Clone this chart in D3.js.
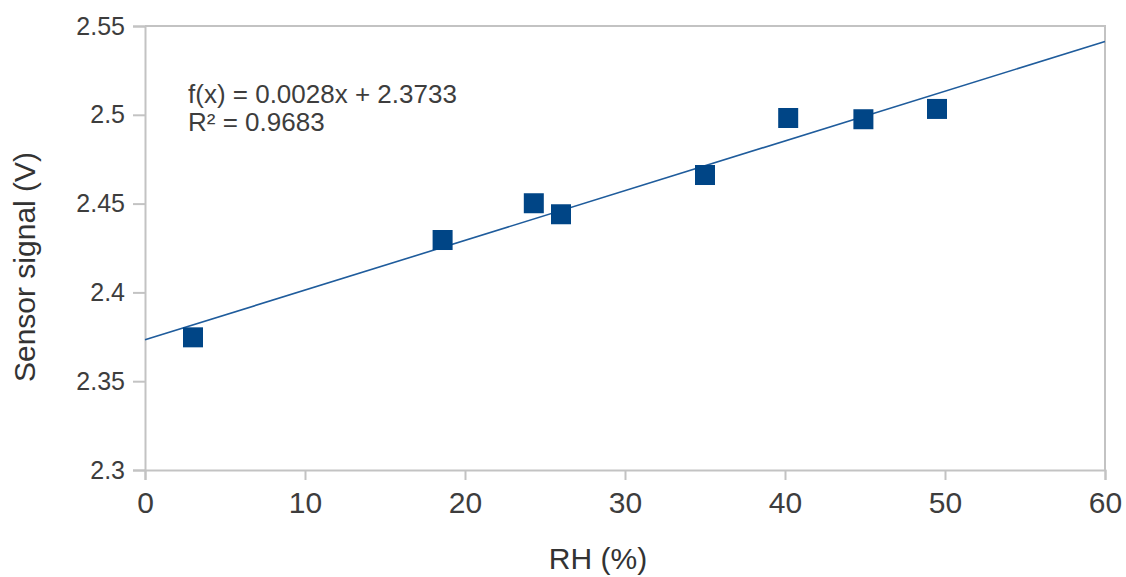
<!DOCTYPE html>
<html>
<head>
<meta charset="utf-8">
<script src="https://cdn.jsdelivr.net/npm/d3@7"></script>
<style>
  html, body { margin: 0; padding: 0; background: #fff; }
  svg { display: block; font-family: "Liberation Sans", Arial, sans-serif; }
</style>
</head>
<body>
<svg id="chart" width="1126" height="577"></svg>
<script>
// Relative humidity (%) vs. sensor output (V)
const rhValues = [3.0, 18.6, 24.3, 26.0, 35.0, 40.2, 44.9, 49.5];
const signalValues = [2.3747, 2.4295, 2.4502, 2.4440, 2.4661, 2.4982, 2.4975, 2.5033];

// Linear fit reported on the chart
const fitSlope = 0.0028;
const fitIntercept = 2.3733;
const fitLabel = "f(x) = 0.0028x + 2.3733";
const r2Label = "R\u00B2 = 0.9683";

const xTickValues = [0, 10, 20, 30, 40, 50, 60];
const xTickLabels = ["0", "10", "20", "30", "40", "50", "60"];
const yTickValues = [2.3, 2.35, 2.4, 2.45, 2.5, 2.55];
const yTickLabels = ["2.3", "2.35", "2.4", "2.45", "2.5", "2.55"];

const xTitle = "RH (%)";
const yTitle = "Sensor signal (V)";

const svg = d3.select("#chart");
const plot = { left: 145, right: 1105, top: 26, bottom: 470 };

const x = d3.scaleLinear().domain([0, 60]).range([plot.left, plot.right]);
const y = d3.scaleLinear().domain([2.3, 2.55]).range([plot.bottom, plot.top]);

const axisColor = "#c3c3c3";
const textColor = "#3d3d3d";

// Frame: top and right borders
svg.append("path")
  .attr("d", `M${plot.left},${plot.top}H${plot.right}V${plot.bottom}`)
  .attr("fill", "none")
  .attr("stroke", axisColor)
  .attr("stroke-width", 2);

// Y axis
const yAxis = svg.append("g")
  .attr("transform", `translate(${plot.left},0)`)
  .call(d3.axisLeft(y)
    .tickValues(yTickValues)
    .tickSize(12)
    .tickPadding(8)
    .tickFormat((d, i) => yTickLabels[i]));
yAxis.select(".domain").attr("stroke", axisColor).attr("stroke-width", 2);
yAxis.selectAll(".tick line").attr("stroke", axisColor).attr("stroke-width", 2);
yAxis.selectAll(".tick text")
  .attr("fill", textColor)
  .style("font-size", "25px")
  .style("font-family", "'Liberation Sans', Arial, sans-serif");

// X axis
const xAxis = svg.append("g")
  .attr("transform", `translate(0,${plot.bottom})`)
  .call(d3.axisBottom(x)
    .tickValues(xTickValues)
    .tickSize(10)
    .tickPadding(12)
    .tickFormat((d, i) => xTickLabels[i]));
xAxis.select(".domain").attr("stroke", axisColor).attr("stroke-width", 2);
xAxis.selectAll(".tick line").attr("stroke", axisColor).attr("stroke-width", 2);
xAxis.selectAll(".tick text")
  .attr("fill", textColor)
  .style("font-size", "30px")
  .style("font-family", "'Liberation Sans', Arial, sans-serif");

// Trend line across the full x range
const fitLine = d3.line().x(d => x(d)).y(d => y(fitIntercept + fitSlope * d));
svg.append("path")
  .datum(x.domain())
  .attr("d", fitLine)
  .attr("fill", "none")
  .attr("stroke", "#1f5c9c")
  .attr("stroke-width", 1.6);

// Data markers
const markerSize = 20;
svg.append("g")
  .selectAll("rect")
  .data(rhValues.map((v, i) => [v, signalValues[i]]))
  .join("rect")
  .attr("x", d => x(d[0]) - markerSize / 2)
  .attr("y", d => y(d[1]) - markerSize / 2)
  .attr("width", markerSize)
  .attr("height", markerSize)
  .attr("fill", "#004586");

// Regression annotation
const note = svg.append("text")
  .attr("x", 188)
  .attr("fill", textColor)
  .style("font-size", "26px");
note.append("tspan").attr("x", 188).attr("y", 103).text(fitLabel);
note.append("tspan").attr("x", 188).attr("y", 131).text(r2Label);

// Axis titles
svg.append("text")
  .attr("x", 598)
  .attr("y", 569)
  .attr("text-anchor", "middle")
  .attr("fill", "#333")
  .style("font-size", "30px")
  .text(xTitle);

svg.append("text")
  .attr("transform", "translate(35,267) rotate(-90)")
  .attr("text-anchor", "middle")
  .attr("fill", "#333")
  .style("font-size", "30px")
  .text(yTitle);
</script>
</body>
</html>
